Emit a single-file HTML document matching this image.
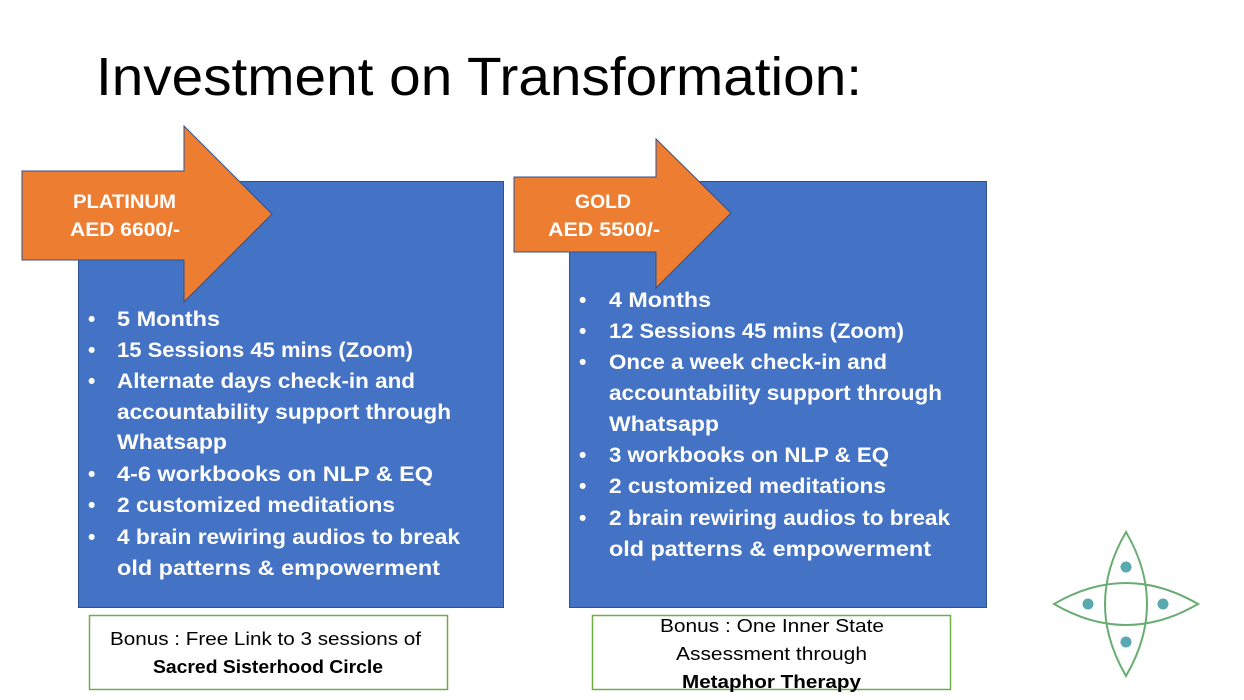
<!DOCTYPE html>
<html><head><meta charset="utf-8"><style>
html,body{margin:0;padding:0;background:#fff;}
svg{display:block;}
text{font-family:"Liberation Sans",sans-serif;}
.b{font-weight:bold;fill:#fff;font-size:21px;}
.a{font-weight:bold;fill:#fff;font-size:19px;}
.n{fill:#000;font-size:18px;}
</style></head><body>
<svg width="1244" height="700" viewBox="0 0 1244 700" xmlns="http://www.w3.org/2000/svg">
<rect width="1244" height="700" fill="#fff"/>
<text x="96" y="95" font-size="54" fill="#000" textLength="766" lengthAdjust="spacingAndGlyphs">Investment on Transformation:</text>

<rect x="78.5" y="181.5" width="425" height="426" fill="#4472c4" stroke="#2f528f" stroke-width="1"/>
<rect x="569.5" y="181.5" width="417" height="426" fill="#4472c4" stroke="#2f528f" stroke-width="1"/>

<polygon points="22,171 184,171 184,126 272,214 184,302 184,260 22,260" fill="#ed7d31" stroke="#2f528f" stroke-width="1"/>
<polygon points="514,177 656,177 656,139 731,213 656,288 656,252 514,252" fill="#ed7d31" stroke="#2f528f" stroke-width="1"/>

<text class="a" x="73" y="208" textLength="103" lengthAdjust="spacingAndGlyphs">PLATINUM</text>
<text class="a" x="70" y="236" textLength="110" lengthAdjust="spacingAndGlyphs">AED 6600/-</text>
<text class="a" x="575" y="208" textLength="56" lengthAdjust="spacingAndGlyphs">GOLD</text>
<text class="a" x="548" y="236" textLength="112" lengthAdjust="spacingAndGlyphs">AED 5500/-</text>

<g class="b">
<text class="b" x="88" y="326">•</text><text class="b" x="117" y="326" textLength="103" lengthAdjust="spacingAndGlyphs">5 Months</text>
<text class="b" x="88" y="357">•</text><text class="b" x="117" y="357" textLength="296" lengthAdjust="spacingAndGlyphs">15 Sessions 45 mins (Zoom)</text>
<text class="b" x="88" y="388">•</text><text class="b" x="117" y="388" textLength="298" lengthAdjust="spacingAndGlyphs">Alternate days check-in and</text>
<text class="b" x="117" y="419" textLength="334" lengthAdjust="spacingAndGlyphs">accountability support through</text>
<text class="b" x="117" y="449" textLength="110" lengthAdjust="spacingAndGlyphs">Whatsapp</text>
<text class="b" x="88" y="481">•</text><text class="b" x="117" y="481" textLength="316" lengthAdjust="spacingAndGlyphs">4-6 workbooks on NLP &amp; EQ</text>
<text class="b" x="88" y="512">•</text><text class="b" x="117" y="512" textLength="278" lengthAdjust="spacingAndGlyphs">2 customized meditations</text>
<text class="b" x="88" y="544">•</text><text class="b" x="117" y="544" textLength="343" lengthAdjust="spacingAndGlyphs">4 brain rewiring audios to break</text>
<text class="b" x="117" y="575" textLength="323" lengthAdjust="spacingAndGlyphs">old patterns &amp; empowerment</text>

<text class="b" x="579" y="307">•</text><text class="b" x="609" y="307" textLength="102" lengthAdjust="spacingAndGlyphs">4 Months</text>
<text class="b" x="579" y="338">•</text><text class="b" x="609" y="338" textLength="295" lengthAdjust="spacingAndGlyphs">12 Sessions 45 mins (Zoom)</text>
<text class="b" x="579" y="369">•</text><text class="b" x="609" y="369" textLength="278" lengthAdjust="spacingAndGlyphs">Once a week check-in and</text>
<text class="b" x="609" y="400" textLength="333" lengthAdjust="spacingAndGlyphs">accountability support through</text>
<text class="b" x="609" y="431" textLength="110" lengthAdjust="spacingAndGlyphs">Whatsapp</text>
<text class="b" x="579" y="462">•</text><text class="b" x="609" y="462" textLength="280" lengthAdjust="spacingAndGlyphs">3 workbooks on NLP &amp; EQ</text>
<text class="b" x="579" y="493">•</text><text class="b" x="609" y="493" textLength="277" lengthAdjust="spacingAndGlyphs">2 customized meditations</text>
<text class="b" x="579" y="525">•</text><text class="b" x="609" y="525" textLength="341" lengthAdjust="spacingAndGlyphs">2 brain rewiring audios to break</text>
<text class="b" x="609" y="556" textLength="322" lengthAdjust="spacingAndGlyphs">old patterns &amp; empowerment</text>
</g>

<rect x="89.5" y="615.5" width="358" height="74" fill="#fff" stroke="#70ad47" stroke-width="1.5"/>
<rect x="592.5" y="615.5" width="358" height="74" fill="none" stroke="#70ad47" stroke-width="1.5"/>
<text class="n" x="110" y="645" textLength="311" lengthAdjust="spacingAndGlyphs">Bonus : Free Link to 3 sessions of</text>
<text class="n" x="153" y="673" font-weight="bold" textLength="230" lengthAdjust="spacingAndGlyphs">Sacred Sisterhood Circle</text>
<text class="n" x="660" y="632" textLength="224" lengthAdjust="spacingAndGlyphs">Bonus : One Inner State</text>
<text class="n" x="676" y="660" textLength="191" lengthAdjust="spacingAndGlyphs">Assessment through</text>
<text class="n" x="682" y="688" font-weight="bold" textLength="179" lengthAdjust="spacingAndGlyphs">Metaphor Therapy</text>

<g fill="none" stroke="#6aad73" stroke-width="2">
<path d="M1126,532 Q1084,604 1126,676 Q1168,604 1126,532 Z"/>
<path d="M1054,604 Q1126,562 1198,604 Q1126,646 1054,604 Z"/>
</g>
<g fill="#5aa9b0">
<circle cx="1126" cy="567" r="5.5"/><circle cx="1088" cy="604" r="5.5"/>
<circle cx="1163" cy="604" r="5.5"/><circle cx="1126" cy="642" r="5.5"/>
</g>
</svg>
</body></html>
